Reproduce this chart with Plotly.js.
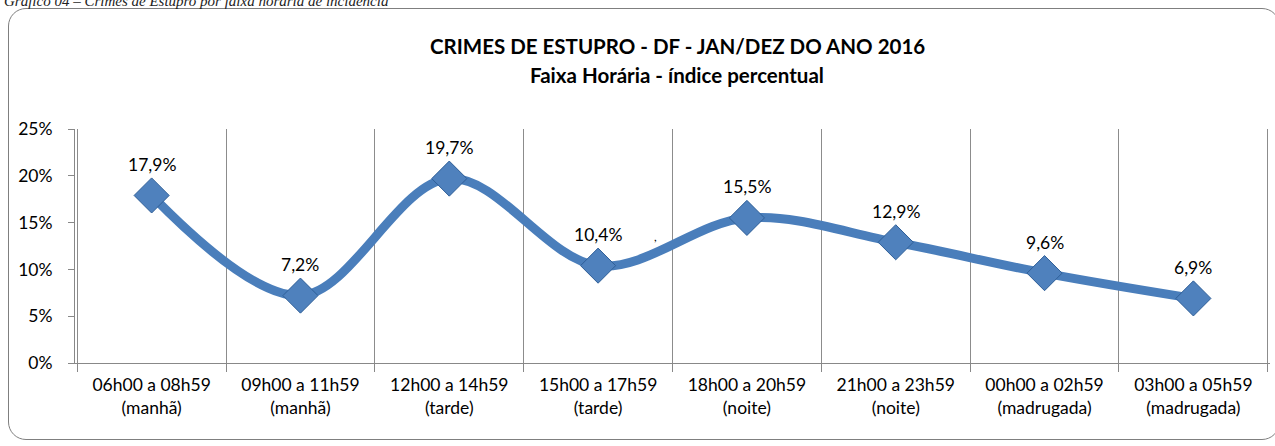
<!DOCTYPE html>
<html>
<head>
<meta charset="utf-8">
<script src="https://cdn.plot.ly/plotly-3.0.1.min.js"></script>
<style>
  html, body { margin: 0; padding: 0; background: #fff; }
  #wrap { position: relative; width: 1275px; height: 446px; overflow: hidden; }
  #chart { position: absolute; left: 0; top: 0; width: 1275px; height: 446px; }
  #frame { position: absolute; left: 8px; top: 8px; width: 1270px; height: 430px;
           border: 1.3px solid #7f7f7f; border-radius: 18px; pointer-events: none; }
  #caption { position: absolute; left: 4px; top: -7px; font-family: "Liberation Serif", serif;
             font-style: italic; font-size: 15px; color: #222; white-space: nowrap; }
</style>
</head>
<body>
<div id="wrap">
  <div id="chart"></div>
  <div id="frame"></div>
  <div id="caption">Gráfico 04 – Crimes de Estupro por faixa horária de incidência</div>
</div>
<script>
const categories = [
  "06h00 a 08h59<br>(manhã)",
  "09h00 a 11h59<br>(manhã)",
  "12h00 a 14h59<br>(tarde)",
  "15h00 a 17h59<br>(tarde)",
  "18h00 a 20h59<br>(noite)",
  "21h00 a 23h59<br>(noite)",
  "00h00 a 02h59<br>(madrugada)",
  "03h00 a 05h59<br>(madrugada)"
];
const values = [0.179, 0.072, 0.197, 0.104, 0.155, 0.129, 0.096, 0.069];
const valueLabels = ["17,9%", "7,2%", "19,7%", "10,4%", "15,5%", "12,9%", "9,6%", "6,9%"];
const yTickVals = [0, 0.05, 0.10, 0.15, 0.20, 0.25];
const yTickText = ["0%", "5%", "10%", "15%", "20%", "25%"];
const titleLines = ["CRIMES DE ESTUPRO - DF - JAN/DEZ DO ANO 2016", "Faixa Horária - índice percentual"];

const font = "Lato, 'Open Sans', sans-serif";

const trace = {
  x: categories,
  y: values,
  type: "scatter",
  mode: "lines+markers",
  line: { shape: "spline", smoothing: 1.0, width: 9, color: "#4a7ebb" },
  marker: { symbol: "diamond", size: 27, color: "#4f81bd", line: { color: "#2f5f98", width: 1 } },
  hoverinfo: "skip"
};

const annotations = values.map((v, i) => ({
  x: categories[i], y: v, xref: "x", yref: "y",
  text: valueLabels[i], showarrow: false, yshift: 31,
  font: { family: font, size: 17.5, color: "#000" }
}));
annotations.push({
  xref: "paper", yref: "paper", x: 0.5038, y: 1.0 + (129 - 46) / 234,
  text: "<b>" + titleLines[0] + "</b>", showarrow: false,
  font: { family: font, size: 20.5, color: "#000" }, yanchor: "middle"
});
annotations.push({
  xref: "paper", yref: "paper", x: 0.5038, y: 1.0 + (129 - 75) / 234,
  text: "<b>" + titleLines[1] + "</b>", showarrow: false,
  font: { family: font, size: 20.5, color: "#000" }, yanchor: "middle"
});
annotations.push({
  xref: "paper", yref: "paper", x: (655 - 75) / 1195, y: (363 - 236) / 234,
  text: ",", showarrow: false, font: { family: font, size: 12, color: "#000" }
});

const layout = {
  width: 1275, height: 446,
  margin: { l: 75, r: 5, t: 129, b: 83 },
  paper_bgcolor: "rgba(0,0,0,0)",
  plot_bgcolor: "rgba(0,0,0,0)",
  showlegend: false,
  xaxis: {
    type: "category",
    tickson: "boundaries",
    ticks: "outside", ticklen: 8, tickcolor: "#888",
    ticklabelstandoff: 6,
    showgrid: true, gridcolor: "#8c8c8c", gridwidth: 1,
    showline: true, linecolor: "#888", linewidth: 1,
    tickfont: { family: font, size: 17.5, color: "#000" },
    fixedrange: true
  },
  yaxis: {
    range: [0, 0.25],
    tickvals: yTickVals, ticktext: yTickText,
    ticks: "outside", ticklen: 6, tickcolor: "#888",
    ticklabelstandoff: 12,
    showgrid: false, zeroline: false,
    showline: true, linecolor: "#888", linewidth: 1,
    tickfont: { family: font, size: 17.5, color: "#000" },
    fixedrange: true
  },
  annotations: annotations
};

Plotly.newPlot("chart", [trace], layout, { staticPlot: true, displayModeBar: false });
</script>
</body>
</html>
